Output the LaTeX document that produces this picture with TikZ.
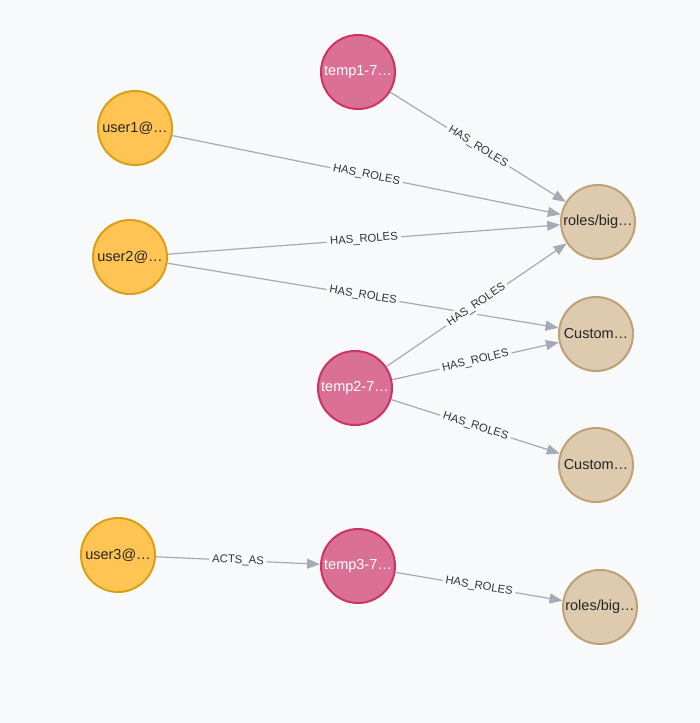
\documentclass[tikz,border=0pt]{standalone}
\usepackage{fontspec}
\setmainfont{Liberation Sans}
\usetikzlibrary{arrows.meta}
\definecolor{bg}{HTML}{F8F9FB}
\definecolor{userfill}{HTML}{FFC454}
\definecolor{userline}{HTML}{D9A017}
\definecolor{tempfill}{HTML}{DA7194}
\definecolor{templine}{HTML}{CC3366}
\definecolor{rolefill}{HTML}{DECAAF}
\definecolor{roleline}{HTML}{BFA177}
\definecolor{edge}{HTML}{A5ABB6}
\begin{document}
\begin{tikzpicture}[x=1pt, y=-1pt,
	every node/.style={inner sep=2pt},
	ent/.style={circle, line width=2pt, minimum size=74pt, inner sep=0pt, font=\fontsize{14.5}{16}\selectfont},
	usr/.style={ent, fill=userfill, draw=userline, text=black!85},
	tmp/.style={ent, fill=tempfill, draw=templine, text=white},
	role/.style={ent, fill=rolefill, draw=roleline, text=black!85},
	rel/.style={draw=edge, line width=1.2pt, -{Triangle[length=13pt,width=10pt]}},
	lbl/.style={midway, sloped, fill=bg, inner sep=3pt, text=black!80, font=\fontsize{11.3}{13}\selectfont}]
	\fill[bg] (0,0) rectangle (700,723);
	
	\node[tmp] (t1) at (358,72) {temp1-7…};
	\node[tmp] (t2) at (355,388) {temp2-7…};
	\node[tmp] (t3) at (358,566) {temp3-7…};
	
	\node[usr] (u1) at (135,128) {user1@…};
	\node[usr] (u2) at (130,257) {user2@…};
	\node[usr] (u3) at (118,555) {user3@…};
	
	\node[role] (r1) at (598,222) {roles/big…};
	\node[role] (c1) at (596,334) {Custom…};
	\node[role] (c2) at (596,465) {Custom…};
	\node[role] (r2) at (600,607) {roles/big…};
	
	\draw[rel] (t1)--(r1) node[lbl] {HAS\_ROLES};
	\draw[rel] (u1)--(r1) node[lbl] {HAS\_ROLES};
	\draw[rel] (u2)--(r1) node[lbl] {HAS\_ROLES};
	\draw[rel] (u2)--(c1) node[lbl] {HAS\_ROLES};
	\draw[rel] (t2)--(r1) node[lbl] {HAS\_ROLES};
	\draw[rel] (t2)--(c1) node[lbl] {HAS\_ROLES};
	\draw[rel] (t2)--(c2) node[lbl] {HAS\_ROLES};
	\draw[rel] (u3)--(t3) node[lbl] {ACTS\_AS};
	\draw[rel] (t3)--(r2) node[lbl] {HAS\_ROLES};
\end{tikzpicture}
\end{document}
